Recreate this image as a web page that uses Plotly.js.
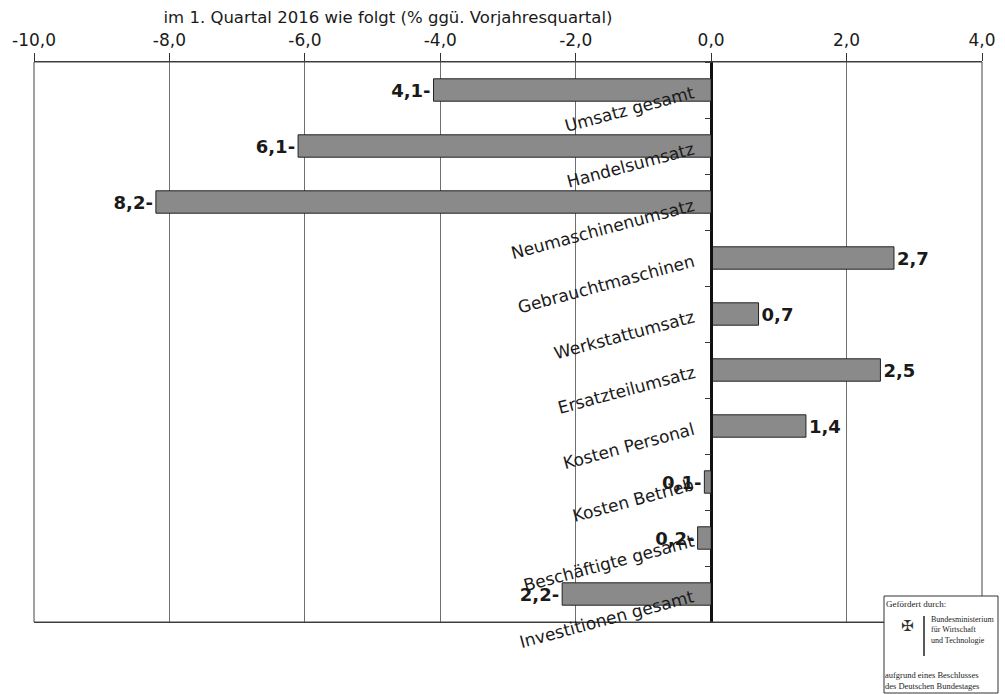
<!DOCTYPE html>
<html>
<head>
<meta charset="utf-8">
<script src="https://cdn.plot.ly/plotly-3.0.1.min.js"></script>
<style>html,body{margin:0;padding:0;background:#fff;}#chart{width:1005px;height:694px;}</style>
</head>
<body>
<div id="chart"></div>
<script>
const categories = ["Umsatz gesamt","Handelsumsatz","Neumaschinenumsatz","Gebrauchtmaschinen","Werkstattumsatz","Ersatzteilumsatz","Kosten Personal","Kosten Betrieb","Beschäftigte gesamt","Investitionen gesamt"];
const values = [-4.1,-6.1,-8.2,2.7,0.7,2.5,1.4,-0.1,-0.2,-2.2];
const xTicks = [-10,-8,-6,-4,-2,0,2,4];
const xTickText = ["-10,0","-8,0","-6,0","-4,0","-2,0","0,0","2,0","4,0"];
const titleText = "im 1. Quartal 2016 wie folgt (% ggü. Vorjahresquartal)";

const labels = values.map(v => {
  const s = Math.abs(v).toFixed(1).replace('.', ',');
  return v < 0 ? s + '-' : s;
});

const FONT = "DejaVu Sans, Verdana, sans-serif";

const trace = {
  type: 'bar',
  orientation: 'h',
  x: values,
  y: categories,
  width: 0.4,
  marker: {color: '#8a8a8a', line: {color: '#222', width: 1}},
  text: labels,
  textposition: 'outside',
  textfont: {family: FONT, size: 18, color: '#1a1a1a', weight: 'bold'},
  constraintext: 'none',
  cliponaxis: false,
  hoverinfo: 'skip'
};

const annotations = categories.map(c => ({
  x: 0, y: c, xref: 'x', yref: 'y',
  text: c, showarrow: false, textangle: -15,
  xanchor: 'right', yanchor: 'top',
  xshift: -12, yshift: 10,
  font: {family: FONT, size: 17, color: '#1a1a1a'}
}));

const Y0 = 622, PH = 560, X0 = 34, PW = 948;
const px = x => (x - X0) / PW;
const py = y => (Y0 - y) / PH;
const serif = 'Liberation Serif, DejaVu Serif, serif';
annotations.push(
  {xref:'paper', yref:'paper', x: px(884), y: py(597), text: 'Gefördert durch:', showarrow:false, xanchor:'left', yanchor:'top', font: {family: serif, size: 9, color:'#222'}},
  {xref:'paper', yref:'paper', x: px(929), y: py(613), text: 'Bundesministerium<br>für Wirtschaft<br>und Technologie', align:'left', showarrow:false, xanchor:'left', yanchor:'top', font: {family: serif, size: 8, color:'#222'}},
  {xref:'paper', yref:'paper', x: px(884), y: py(692), text: 'aufgrund eines Beschlusses<br>des Deutschen Bundestages', align:'left', showarrow:false, xanchor:'left', yanchor:'bottom', borderpad: 0, font: {family: serif, size: 8.5, color:'#222'}},
  {xref:'paper', yref:'paper', x: px(907), y: py(626), text: '✠', showarrow:false, xanchor:'center', yanchor:'middle', font: {family: 'DejaVu Sans', size: 15, color:'#333'}}
);

const layout = {
  width: 1005, height: 694,
  margin: {l: 34, r: 23, t: 62, b: 72, pad: 0},
  paper_bgcolor: '#fff', plot_bgcolor: '#fff',
  showlegend: false,
  title: {text: titleText, x: 388/1005, xanchor: 'center', xref: 'container', y: 1 - 17/694, yanchor: 'middle',
          font: {family: FONT, size: 16.5, color: '#1a1a1a'}},
  xaxis: {
    side: 'top', range: [-10, 4], tickmode: 'array', tickvals: xTicks, ticktext: xTickText,
    ticks: 'outside', ticklen: 8, tickcolor: '#333', tickwidth: 1,
    showgrid: true, gridcolor: '#6f6f6f', gridwidth: 1,
    zeroline: true, zerolinecolor: '#111', zerolinewidth: 1.5,
    showline: true, linecolor: '#333', linewidth: 1, mirror: true,
    tickfont: {family: FONT, size: 17, color: '#1a1a1a'},
    fixedrange: true
  },
  yaxis: {
    type: 'category', categoryorder: 'array', categoryarray: categories,
    range: [categories.length - 0.5, -0.5],
    anchor: 'free', position: 10/14,
    tickson: 'boundaries', ticks: 'outside', ticklen: 6, tickcolor: '#333',
    showticklabels: false, showgrid: false, zeroline: false,
    showline: true, linecolor: '#111', linewidth: 1.5,
    fixedrange: true
  },
  shapes: [
    {type:'rect', xref:'paper', yref:'paper', x0:0, x1:1, y0:0, y1:1, line:{color:'#444', width:1}, layer:'above'},
    {type:'rect', xref:'paper', yref:'paper', x0:px(884), x1:px(998), y0:py(596), y1:py(693), line:{color:'#333', width:1}, fillcolor:'#fff', layer:'above'},
    {type:'line', xref:'paper', yref:'paper', x0:px(924), x1:px(924), y0:py(616), y1:py(656), line:{color:'#222', width:1.5}, layer:'above'}
  ],
  annotations: annotations
};

Plotly.newPlot('chart', [trace], layout, {displayModeBar: false, staticPlot: true});
</script>
</body>
</html>
